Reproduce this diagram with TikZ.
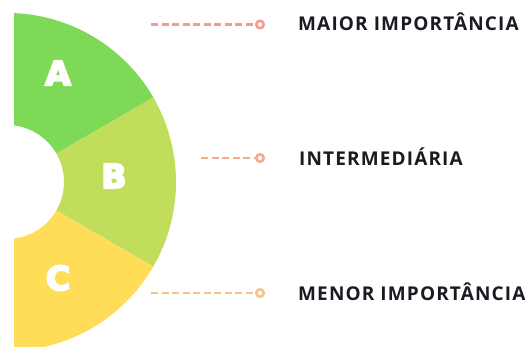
\documentclass[tikz,border=0pt]{standalone}
\usepackage{fontspec}
\setmainfont{Open Sans}
\newfontfamily\heavyfont[BoldFeatures={FakeBold=6}]{DejaVu Sans}
\definecolor{colA}{RGB}{126,217,87}
\definecolor{colB}{RGB}{192,221,91}
\definecolor{colC}{RGB}{255,221,89}
\definecolor{lineA}{RGB}{244,157,142}
\definecolor{lineB}{RGB}{245,172,140}
\definecolor{lineC}{RGB}{244,196,138}
\definecolor{txt}{RGB}{26,26,34}
\tikzset{
  seclabel/.style={text=white,font=\heavyfont\bfseries\fontsize{33}{33}\selectfont,inner sep=0pt},
  toplabel/.style={anchor=west,text=txt,inner sep=0pt,font=\bfseries\fontsize{19}{19}\selectfont\addfontfeatures{LetterSpace=6}},
  dot/.style={circle,draw=#1,fill=white,line width=2.6pt,minimum size=7.5pt,inner sep=0pt},
  dline/.style={draw=#1,line width=2.8pt,dash pattern=on 7pt off 3.5pt}
}
\begin{document}
\begin{tikzpicture}[x=1pt,y=1pt]
\useasboundingbox (0,0) rectangle (525,347);
\begin{scope}
\clip (14,0) rectangle (300,347);
\begin{scope}[shift={(7,165)}]
\fill[colA] (30:57pt) arc[start angle=30,end angle=100,radius=57pt] -- (100:169pt) arc[start angle=100,end angle=30,radius=169pt] -- cycle;
\fill[colB] (-30:57pt) arc[start angle=-30,end angle=30,radius=57pt] -- (30:169pt) arc[start angle=30,end angle=-30,radius=169pt] -- cycle;
\fill[colC] (-100:57pt) arc[start angle=-100,end angle=-30,radius=57pt] -- (-30:169pt) arc[start angle=-30,end angle=-100,radius=169pt] -- cycle;
\end{scope}
\end{scope}
\node[seclabel] (la) at (58,274) {A};
\node[seclabel] (lb) at (114,171) {B};
\node[seclabel] (lc) at (58,69) {C};
% labels
\node[toplabel] (t1) at (298,325) {MAIOR IMPORTÂNCIA};
\node[toplabel] (t2) at (299,190) {INTERMEDIÁRIA};
\node[toplabel] (t3) at (298,55) {MENOR IMPORTÂNCIA};
% connectors
\node[dot=lineA] (d1) at (260,322.5) {};
\node[dot=lineB] (d2) at (260,189) {};
\node[dot=lineC] (d3) at (260,54) {};
\coordinate (s1) at (151,322.5);
\coordinate (s2) at (201,189);
\coordinate (s3) at (151,54);
\draw[dline=lineA] (s1) -- (d1.west);
\draw[dline=lineB] (s2) -- (d2.west);
\draw[dline=lineC] (s3) -- (d3.west);
\end{tikzpicture}
\end{document}
